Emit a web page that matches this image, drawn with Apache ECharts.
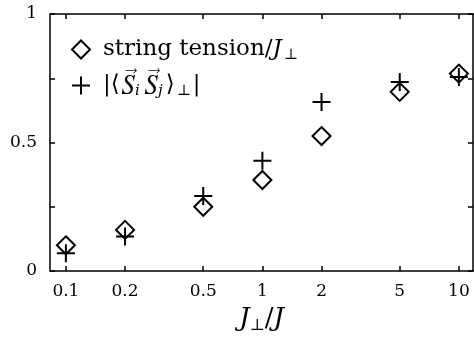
<!DOCTYPE html>
<html>
<head>
<meta charset="utf-8">
<script src="https://cdn.jsdelivr.net/npm/echarts@6/dist/echarts.min.js"></script>
<style>
  html, body { margin: 0; padding: 0; background: #fff; }
  #chart { width: 474px; height: 337px; }
</style>
</head>
<body>
<div id="chart"></div>
<script>
// J_perp / J values (log axis)
const ratios = [0.1, 0.2, 0.5, 1, 2, 5, 10];
// string tension / J_perp
const tension = [0.100, 0.160, 0.250, 0.354, 0.525, 0.697, 0.768];
// |<S_i S_j>_perp|
const corr = [0.069, 0.134, 0.292, 0.429, 0.658, 0.735, 0.755];
const xTicks = [0.1, 0.2, 0.5, 1, 2, 5, 10];
const yLabels = [0, 0.5, 1];

const serif = "'DejaVu Serif', serif";
// FreeSerif renders the combining arrow (U+20D7) properly
const vecFont = "FreeSerif, 'DejaVu Sans', serif";
const lg = v => Math.log10(v);
const fmtX = v => String(Math.round(Math.pow(10, v) * 10) / 10);

const legendRich = {
  n: {fontFamily: serif, fontSize: 23, color: '#000', lineHeight: 27},
  i: {fontFamily: serif, fontSize: 23, fontStyle: 'italic', color: '#000', lineHeight: 27},
  v: {fontFamily: vecFont, fontSize: 27, fontStyle: 'italic', color: '#000', lineHeight: 27, padding: [0, 0, 0, 2]},
  s: {fontFamily: serif, fontSize: 15, color: '#000', lineHeight: 27, verticalAlign: 'bottom', padding: [0, 2, 0, 2]},
  si: {fontFamily: serif, fontSize: 15, fontStyle: 'italic', color: '#000', lineHeight: 27, verticalAlign: 'bottom', padding: [0, 3, 0, 1]},
  g: {width: 8}
};

const legendText = {
  'tension': '{g|}{n|string tension/}{i|J}{s|⊥}',
  'corr': '{g|}{n|\|⟨}{v|S\u20D7}{si|i}{v|S\u20D7}{si|j}{n|⟩}{s|⊥}{n|\|}'
};

const tickStyle = {show: true, inside: true, length: 5, lineStyle: {color: '#000', width: 1.5}};
const lineStyle = {onZero: false, lineStyle: {color: '#000', width: 1.5}};
const markStyle = {color: 'rgba(0,0,0,0)', borderColor: '#000', borderWidth: 2, opacity: 1};

const chart = echarts.init(document.getElementById('chart'));
chart.setOption({
  animation: false,
  backgroundColor: '#fff',
  grid: {left: 50, right: 1, top: 14, bottom: 66, outerBoundsMode: 'none'},
  legend: {
    orient: 'vertical',
    left: 71, top: 38, padding: 0,
    itemWidth: 18, itemHeight: 18, itemGap: 9,
    data: ['tension', 'corr'],
    formatter: name => legendText[name],
    textStyle: {rich: legendRich}
  },
  xAxis: [{
    type: 'value',
    min: lg(0.083), max: lg(11.8),
    axisLine: lineStyle,
    splitLine: {show: false},
    axisTick: Object.assign({customValues: xTicks.map(lg)}, tickStyle),
    axisLabel: {
      customValues: xTicks.map(lg), formatter: fmtX,
      fontFamily: serif, fontSize: 17, color: '#000', margin: 12
    },
    name: '{i|J}{s|⊥}{n|/}{i|J}',
    nameLocation: 'middle', nameGap: 33, nameMoveOverlap: false,
    nameTextStyle: {
      rich: {
        i: {fontFamily: serif, fontSize: 26, fontStyle: 'italic', color: '#000', lineHeight: 30},
        n: {fontFamily: serif, fontSize: 26, color: '#000', lineHeight: 30},
        s: {fontFamily: serif, fontSize: 16, color: '#000', lineHeight: 30, verticalAlign: 'bottom'}
      }
    }
  }, {
    type: 'value', position: 'top',
    min: lg(0.083), max: lg(11.8),
    axisLine: lineStyle,
    splitLine: {show: false},
    axisTick: Object.assign({customValues: xTicks.map(lg)}, tickStyle),
    axisLabel: {show: false}
  }],
  yAxis: [{
    type: 'value', min: 0, max: 1, interval: 0.25,
    axisLine: lineStyle,
    splitLine: {show: false},
    axisTick: tickStyle,
    axisLabel: {
      fontFamily: serif, fontSize: 17, color: '#000', margin: 13,
      formatter: v => yLabels.includes(v) ? String(v) : ''
    }
  }, {
    type: 'value', position: 'right', min: 0, max: 1, interval: 0.25,
    axisLine: lineStyle,
    splitLine: {show: false},
    axisTick: tickStyle,
    axisLabel: {show: false}
  }],
  series: [{
    name: 'tension',
    type: 'scatter',
    symbol: 'diamond',
    symbolSize: 18,
    itemStyle: markStyle,
    data: ratios.map((r, k) => [lg(r), tension[k]])
  }, {
    name: 'corr',
    type: 'scatter',
    symbol: 'path://M0,9H18M9,0V18',
    symbolSize: 18,
    itemStyle: markStyle,
    data: ratios.map((r, k) => [lg(r), corr[k]])
  }]
});
</script>
</body>
</html>
